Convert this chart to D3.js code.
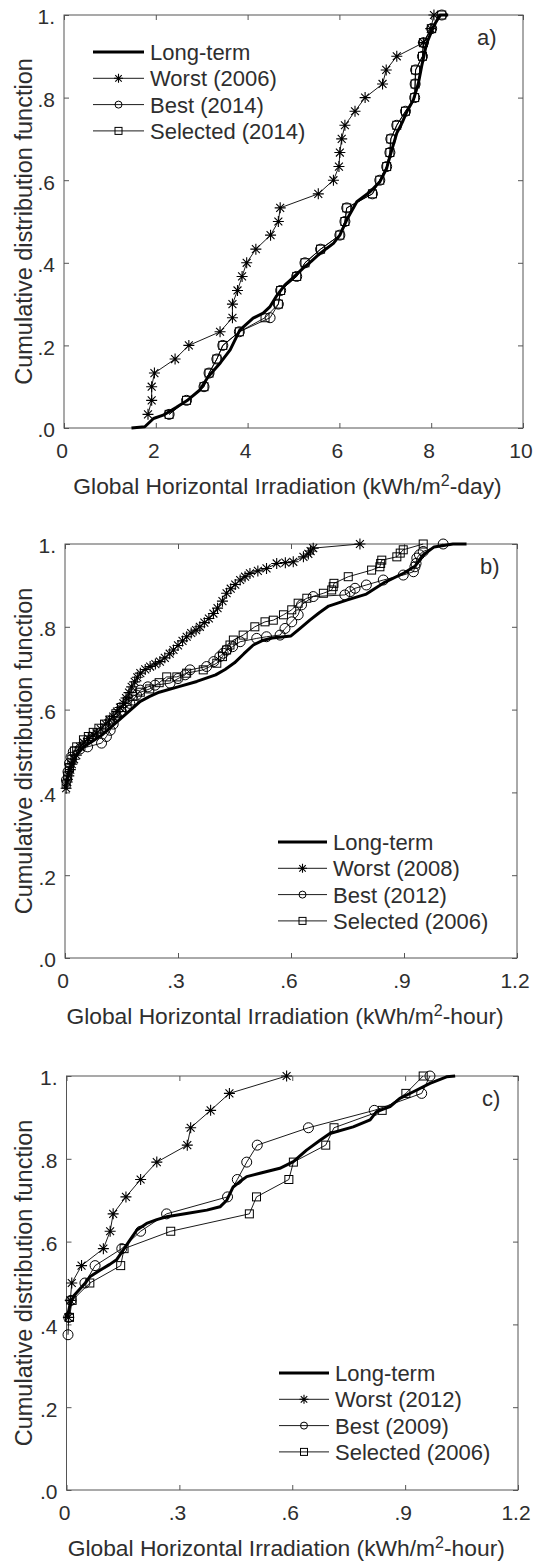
<!DOCTYPE html>
<html>
<head>
<meta charset="utf-8">
<script src="https://cdn.jsdelivr.net/npm/d3@7"></script>
<style>
  body { margin: 0; background: #fff; }
  svg { display: block; }
  text { font-family: "Liberation Sans", Arial, Helvetica, sans-serif; }
</style>
</head>
<body>
<svg id="chart"></svg>
<script>
// ---- data ----

// tick labels
var yTicks = [0, 0.2, 0.4, 0.6, 0.8, 1];
var yTickLabels = ['.0', '.2', '.4', '.6', '.8', '1.'];
var xTicksDay = [0, 2, 4, 6, 8, 10];
var xTickLabelsDay = ['0', '2', '4', '6', '8', '10'];
var xTicksHour = [0, 0.3, 0.6, 0.9, 1.2];
var xTickLabelsHour = ['0', '.3', '.6', '.9', '1.2'];

// legend names
var namesA = ['Long-term', 'Worst (2006)', 'Best (2014)', 'Selected (2014)'];
var namesB = ['Long-term', 'Worst (2008)', 'Best (2012)', 'Selected (2006)'];
var namesC = ['Long-term', 'Worst (2012)', 'Best (2009)', 'Selected (2006)'];

// a) daily values, 30 days
var cdfA = [.033,.067,.100,.133,.167,.200,.233,.267,.300,.333,.367,.400,.433,.467,.500,
            .533,.567,.600,.633,.667,.700,.733,.767,.800,.833,.867,.900,.933,.967,1.0];
var worstA = [1.83,1.91,1.91,1.97,2.42,2.72,3.40,3.67,3.67,3.78,3.88,3.98,4.18,4.50,4.67,
              4.71,5.54,5.87,5.99,6.01,6.05,6.12,6.34,6.56,6.94,7.02,7.25,7.83,7.99,8.06];
var bestA = [2.29,2.67,3.05,3.16,3.33,3.46,3.82,4.49,4.67,4.72,5.07,5.25,5.59,6.01,6.12,
             6.16,6.72,6.88,7.03,7.10,7.12,7.25,7.44,7.64,7.65,7.66,7.81,7.83,8.01,8.23];
var selectedA = [2.29,2.67,3.05,3.16,3.33,3.46,3.82,4.38,4.67,4.72,5.07,5.25,5.59,6.01,6.12,
                 6.16,6.72,6.88,7.03,7.10,7.12,7.25,7.44,7.64,7.65,7.66,7.81,7.83,8.01,8.23];
var longA_x = [1.47,1.76,1.95,2.16,2.45,2.70,2.96,3.14,3.40,3.62,3.83,4.12,4.34,4.49,4.62,4.81,5.01,5.21,5.38,5.54,
               5.70,5.87,6.01,6.16,6.38,6.67,6.88,7.03,7.14,7.25,7.37,7.47,7.61,7.72,7.79,7.90,8.05,8.19,8.37];
var longA_p = [0,.003,.023,.031,.050,.068,.092,.124,.157,.189,.237,.266,.278,.294,.318,.346,.366,.387,.403,.419,
               .433,.447,.467,.504,.548,.572,.596,.629,.673,.714,.740,.766,.794,.834,.875,.931,.972,1.0,1.0];

// b) hourly values
var worstB_x = [.003,.006,.010,.014,.018,.024,.030,.040,.050,.062,.075,.084,.095,.108,.118,.128,.138,.146,.155,.162,
                .170,.177,.185,.192,.200,.213,.226,.240,.252,.265,.278,.288,.300,.312,.323,.335,.348,.358,.370,.382,
                .394,.405,.418,.429,.440,.452,.465,.478,.491,.512,.535,.562,.585,.606,.633,.646,.652,.659,.783];
var worstB_p = [.410,.425,.440,.455,.468,.480,.490,.510,.520,.530,.538,.543,.553,.565,.575,.583,.595,.605,.615,.628,
                .641,.655,.667,.678,.688,.697,.704,.710,.716,.725,.735,.744,.755,.766,.776,.785,.792,.800,.810,.820,
                .832,.845,.862,.881,.892,.902,.913,.921,.929,.935,.941,.953,.955,.957,.969,.976,.983,.990,1.0];
var bestB_x = [.004,.008,.012,.016,.022,.040,.060,.097,.110,.120,.128,.137,.150,.163,.172,.181,.190,.200,.220,.239,
               .279,.300,.319,.332,.376,.395,.411,.420,.429,.445,.465,.509,.535,.571,.584,.602,.619,.628,.659,.743,
               .757,.770,.800,.845,.898,.925,.929,.932,.934,.941,.951,1.004];
var bestB_p = [.430,.450,.470,.485,.498,.505,.510,.519,.535,.550,.565,.583,.595,.605,.615,.623,.635,.647,.655,.659,
               .664,.675,.684,.696,.704,.716,.728,.736,.744,.752,.764,.772,.776,.780,.796,.812,.829,.853,.873,.877,
               .885,.893,.901,.913,.925,.933,.945,.953,.966,.974,.982,1.0];
var selectedB_x = [.003,.007,.012,.018,.025,.031,.049,.062,.075,.090,.105,.120,.135,.150,.165,.180,.200,.225,.250,.270,
                   .297,.323,.367,.403,.418,.429,.438,.447,.473,.504,.531,.553,.580,.602,.619,.642,.686,.708,.712,.714,
                   .752,.814,.836,.838,.841,.881,.890,.898,.951];
var selectedB_p = [.420,.440,.460,.480,.500,.510,.527,.535,.545,.555,.565,.575,.590,.605,.620,.632,.642,.650,.665,.679,
                   .679,.688,.696,.712,.728,.744,.756,.768,.780,.800,.812,.816,.829,.841,.857,.869,.881,.889,.897,.905,
                   .921,.937,.945,.953,.961,.969,.978,.986,1.0];
var longB_x = [0,.005,.010,.020,.030,.050,.075,.100,.125,.150,.175,.200,.225,.250,.300,.350,.400,.425,.450,.475,
               .500,.525,.550,.600,.625,.650,.675,.700,.750,.800,.850,.900,.930,.950,.980,1.030,1.066];
var longB_p = [.410,.430,.450,.470,.490,.510,.525,.540,.560,.580,.600,.620,.632,.642,.655,.668,.684,.697,.713,.735,
               .756,.767,.773,.778,.797,.816,.834,.850,.865,.879,.908,.930,.947,.973,.993,1.0,1.0];

// c) hourly values, 24 hours
var worstC_x = [.005,.010,.014,.040,.098,.116,.124,.158,.197,.240,.321,.330,.383,.433,.585];
var worstC_p = [.417,.458,.500,.542,.583,.625,.667,.708,.750,.792,.833,.875,.917,.958,1.0];
var bestC_x = [.004,.006,.012,.049,.076,.147,.197,.266,.428,.454,.479,.507,.643,.818,.944,.966];
var bestC_p = [.375,.417,.458,.500,.542,.583,.625,.667,.708,.750,.792,.833,.875,.917,.958,1.0];
var selectedC_x = [.008,.015,.062,.144,.153,.277,.486,.505,.591,.603,.689,.711,.839,.902,.948];
var selectedC_p = [.417,.458,.500,.542,.583,.625,.667,.708,.750,.792,.833,.875,.917,.958,1.0];
var longC_x = [0,.005,.010,.020,.035,.050,.062,.089,.115,.133,.151,.169,.187,.213,.240,.266,.319,.373,.408,.426,
               .443,.461,.479,.514,.567,.603,.638,.674,.700,.762,.807,.824,.860,.886,.922,.966,1.010,1.033];
var longC_p = [.415,.430,.450,.470,.485,.500,.515,.531,.545,.556,.580,.604,.628,.644,.653,.660,.668,.676,.684,.700,
               .732,.745,.757,.765,.777,.793,.821,.845,.861,.877,.894,.914,.926,.946,.962,.982,.998,1.0];

// ---- layout ----
var width = 534;
var height = 1562;
var textColor = '#2e2e2e';
var boxColor = '#555';

var panels = [
  {left: 64, right: 523, top: 15, bottom: 428, xMax: 10,
   xTicks: xTicksDay, xLabels: xTickLabelsDay, unit: '-day)',
   tag: 'a)', tagX: 477, legendX: 93, legendY: 52, lineLen: 51, names: namesA,
   longterm: d3.zip(longA_x, longA_p),
   worst: d3.zip(worstA, cdfA), best: d3.zip(bestA, cdfA), selected: d3.zip(selectedA, cdfA)},
  {left: 65, right: 517, top: 544, bottom: 958, xMax: 1.2,
   xTicks: xTicksHour, xLabels: xTickLabelsHour, unit: '-hour)',
   tag: 'b)', tagX: 480, legendX: 278, legendY: 842, lineLen: 49, names: namesB,
   longterm: d3.zip(longB_x, longB_p),
   worst: d3.zip(worstB_x, worstB_p), best: d3.zip(bestB_x, bestB_p), selected: d3.zip(selectedB_x, selectedB_p)},
  {left: 66.5, right: 518, top: 1076, bottom: 1490, xMax: 1.2,
   xTicks: xTicksHour, xLabels: xTickLabelsHour, unit: '-hour)',
   tag: 'c)', tagX: 482, legendX: 279, legendY: 1373, lineLen: 50, names: namesC,
   longterm: d3.zip(longC_x, longC_p),
   worst: d3.zip(worstC_x, worstC_p), best: d3.zip(bestC_x, bestC_p), selected: d3.zip(selectedC_x, selectedC_p)}
];

var svg = d3.select('#chart')
  .attr('width', width)
  .attr('height', height);

svg.append('rect')
  .attr('width', width)
  .attr('height', height)
  .attr('fill', '#fff');

function starPath(s) {
  var d = s * 0.72;
  return 'M0,' + (-s) + 'L0,' + s + 'M' + (-s) + ',0L' + s + ',0' +
         'M' + (-d) + ',' + (-d) + 'L' + d + ',' + d + 'M' + (-d) + ',' + d + 'L' + d + ',' + (-d);
}

function drawMarker(g, kind, x, y, big) {
  if (kind === 'worst') {
    g.append('path').attr('d', starPath(big ? 5.5 : 4.5))
      .attr('transform', 'translate(' + x + ',' + y + ')')
      .attr('fill', 'none').attr('stroke', '#000').attr('stroke-width', 1.1);
  } else if (kind === 'best') {
    g.append('circle').attr('cx', x).attr('cy', y).attr('r', big ? 5 : 3.5)
      .attr('fill', 'none').attr('stroke', '#000').attr('stroke-width', 1);
  } else if (kind === 'selected') {
    var s = big ? 8 : 7;
    g.append('rect').attr('x', x - s / 2).attr('y', y - s / 2).attr('width', s).attr('height', s)
      .attr('fill', 'none').attr('stroke', '#000').attr('stroke-width', 1);
  }
}

panels.forEach(function(p) {
  var g = svg.append('g');

  var xScale = d3.scaleLinear().domain([0, p.xMax]).range([p.left, p.right]);
  var yScale = d3.scaleLinear().domain([0, 1]).range([p.bottom, p.top]);

  function styleAxis(a) {
    a.select('.domain').remove();
    a.attr('font-family', null).attr('font-size', null);
    a.selectAll('line').attr('stroke', boxColor);
    a.selectAll('text').attr('fill', textColor).style('font-size', '21px');
  }

  // bottom + left axes with labels
  g.append('g')
    .attr('transform', 'translate(0,' + p.bottom + ')')
    .call(d3.axisBottom(xScale).tickValues(p.xTicks).tickSize(-5).tickPadding(15)
      .tickFormat(function(d, i) { return p.xLabels[i]; }))
    .call(styleAxis)
    .selectAll('text').attr('dx', '-2.5');

  g.append('g')
    .attr('transform', 'translate(' + p.left + ',0)')
    .call(d3.axisLeft(yScale).tickValues(yTicks).tickSize(-5).tickPadding(9)
      .tickFormat(function(d, i) { return yTickLabels[i]; }))
    .call(styleAxis)
    .selectAll('text').attr('dy', '0.42em');

  // top + right ticks only
  g.append('g')
    .attr('transform', 'translate(0,' + p.top + ')')
    .call(d3.axisTop(xScale).tickValues(p.xTicks).tickSize(-5).tickFormat(''))
    .call(styleAxis);

  g.append('g')
    .attr('transform', 'translate(' + p.right + ',0)')
    .call(d3.axisRight(yScale).tickValues(yTicks).tickSize(-5).tickFormat(''))
    .call(styleAxis);

  // box
  g.append('rect')
    .attr('x', p.left).attr('y', p.top)
    .attr('width', p.right - p.left).attr('height', p.bottom - p.top)
    .attr('fill', 'none').attr('stroke', boxColor).attr('stroke-width', 1);

  // axis titles
  var xt = g.append('text')
    .attr('x', (p.left + p.right) / 2 - 6)
    .attr('y', p.bottom + 66)
    .attr('text-anchor', 'middle')
    .attr('fill', textColor)
    .style('font-size', '22.8px');
  xt.append('tspan').text('Global Horizontal Irradiation (kWh/m');
  xt.append('tspan').text('2').attr('dy', -8).style('font-size', '16px');
  xt.append('tspan').text(p.unit).attr('dy', 8);

  g.append('text')
    .attr('transform', 'translate(32,' + (p.top + p.bottom) / 2 + ') rotate(-90)')
    .attr('text-anchor', 'middle')
    .attr('fill', textColor)
    .style('font-size', '23.5px')
    .text('Cumulative distribution function');

  g.append('text')
    .attr('x', p.tagX)
    .attr('y', p.top + 30)
    .attr('fill', textColor)
    .style('font-size', '22px')
    .text(p.tag);

  // series
  var line = d3.line()
    .x(function(d) { return xScale(d[0]); })
    .y(function(d) { return yScale(d[1]); });

  g.append('path')
    .datum(p.longterm)
    .attr('d', line)
    .attr('fill', 'none')
    .attr('stroke', '#000')
    .attr('stroke-width', 3)
    .attr('stroke-linejoin', 'round');

  ['worst', 'best', 'selected'].forEach(function(kind) {
    var data = p[kind];
    g.append('path')
      .datum(data)
      .attr('d', line)
      .attr('fill', 'none')
      .attr('stroke', '#000')
      .attr('stroke-width', 0.9);
    var mg = g.append('g');
    data.forEach(function(d) {
      drawMarker(mg, kind, xScale(d[0]), yScale(d[1]), true);
    });
  });

  // legend
  var kinds = ['longterm', 'worst', 'best', 'selected'];
  kinds.forEach(function(kind, i) {
    var y = p.legendY + i * 26.3;
    var lg = g.append('g');
    lg.append('line')
      .attr('x1', p.legendX).attr('x2', p.legendX + p.lineLen)
      .attr('y1', y).attr('y2', y)
      .attr('stroke', '#000')
      .attr('stroke-width', kind === 'longterm' ? 3.2 : 0.9);
    drawMarker(lg, kind, p.legendX + p.lineLen / 2, y, false);
    lg.append('text')
      .attr('x', p.legendX + p.lineLen + 6)
      .attr('y', y)
      .attr('dy', '0.36em')
      .attr('fill', textColor)
      .style('font-size', '22px')
      .text(p.names[i]);
  });
});
</script>
</body>
</html>
